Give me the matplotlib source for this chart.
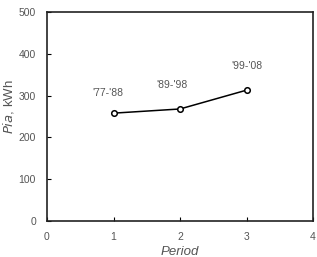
import matplotlib.pyplot as plt

period = [1, 2, 3]
pia = [258, 268, 313]
labels = ["'77-'88", "'89-'98", "'99-'08"]
label_x = [0.92, 1.88, 3.0]
label_y = [306, 325, 371]

gray = '#555555'
plt.rcParams['font.family'] = ['Liberation Sans', 'DejaVu Sans']

fig = plt.figure(figsize=(3.17, 2.57), dpi=100)
ax = fig.add_axes([47 / 317, 1 - 221 / 257, 266 / 317, 209 / 257])

ax.plot(period, pia, color='black', linewidth=1.1, marker='o', markersize=4,
        markerfacecolor='white', markeredgecolor='black', markeredgewidth=1.1)

for x, y, s in zip(label_x, label_y, labels):
    ax.text(x, y, s, fontsize=7.5, color=gray, ha='center', va='center')

ax.set_xlim(0, 4)
ax.set_ylim(0, 500)
ax.set_xticks([0, 1, 2, 3, 4])
ax.set_yticks([0, 100, 200, 300, 400, 500])
ax.tick_params(direction='in', length=3, width=0.8, labelsize=7.5, labelcolor=gray, pad=8)
for sp in ax.spines.values():
    sp.set_linewidth(1.2)
    sp.set_color('#222222')

ax.set_ylabel(r'$\it{Pia}$, kWh', fontsize=9.5, color=gray)
ax.yaxis.set_label_coords(-0.115, 0.545)
ax.set_xlabel('Period', fontsize=9.5, color=gray, style='italic')
ax.xaxis.set_label_coords(0.5, -0.118)

fig.savefig('out.png', dpi=100)
